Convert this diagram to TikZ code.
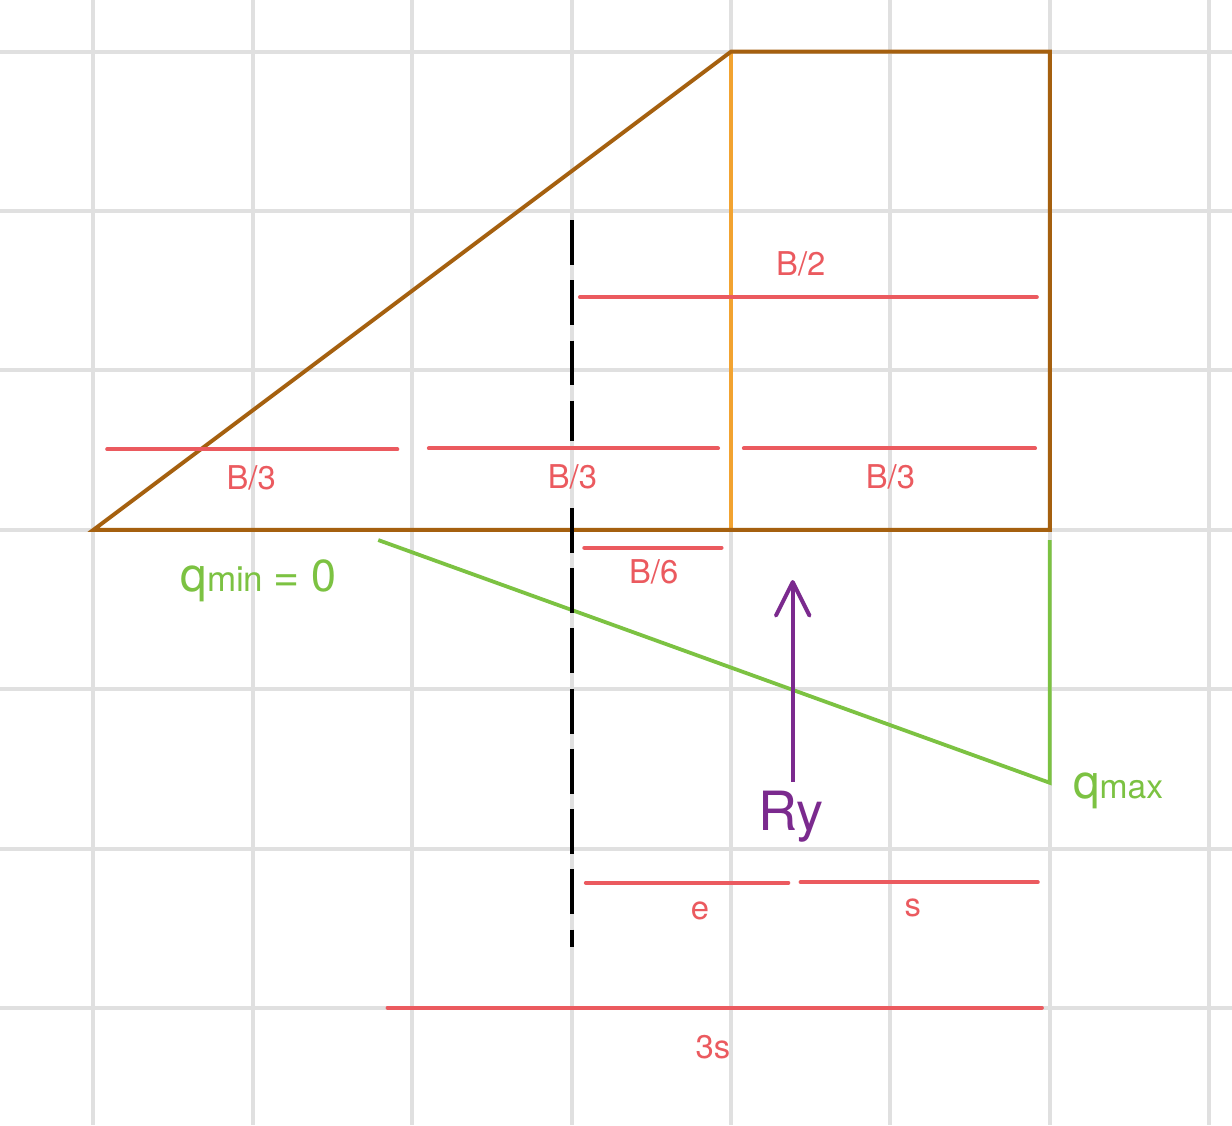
\documentclass[tikz,border=0pt]{standalone}
\usepackage{fontspec}
\setmainfont{TeX Gyre Heros}
\usetikzlibrary{calc,arrows.meta}
\definecolor{wallbrown}{HTML}{A5600F}
\definecolor{splitorange}{HTML}{F2A331}
\definecolor{dimred}{HTML}{EB5A5F}
\definecolor{loadgreen}{HTML}{7CC242}
\definecolor{forcepurple}{HTML}{7B2A8E}
\definecolor{gridgray}{HTML}{E0E0E0}

\begin{document}
\begin{tikzpicture}[x=2cm, y=2cm,
        gridline/.style={gridgray, line width=1.4pt},
        wall/.style={wallbrown, line width=1.4pt, line join=miter},
        splitline/.style={splitorange, line width=1.2pt},
        load/.style={loadgreen, line width=1.35pt},
        dim/.style={dimred, line width=1.5pt, line cap=round},
        axisline/.style={black, line width=1.5pt, dash pattern=on 16pt off 5.5pt},
        force/.style={forcepurple, line width=1.4pt, -{Straight Barb[length=12pt, width=12pt, round]}},
        lbl/.style={dimred, anchor=base, inner sep=0pt, font=\fontsize{11.7pt}{14pt}\selectfont}]
        \fill[white] (-0.586,-3.734) rectangle (7.143,3.324);
        \useasboundingbox (-0.586,-3.734) rectangle (7.143,3.324);
        \draw[gridline, step=2cm] (-0.586,-3.734) grid (7.143,3.324);

        \coordinate (toe) at (0,0);
        \coordinate (crest) at (4,3);
        \coordinate (top) at (6,3);
        \coordinate (heel) at (6,0);
        \coordinate (foot) at (4,0);

        \draw[splitline] (crest) -- (foot);
        \draw[wall] (toe) -- (crest) -- (top) -- (heel) -- cycle;

        \coordinate (qminpt) at (1.787,-0.064);
        \coordinate (qmaxpt) at ($(heel) + (0,-1.587)$);
        \draw[load] (qminpt) -- (qmaxpt) -- ($(heel) + (0,-0.064)$);

        \draw[dim] (3.053,1.46) -- (5.918,1.46);
        \draw[dim] (0.087,0.505) -- (1.906,0.505);
        \draw[dim] (2.105,0.511) -- (3.918,0.511);
        \draw[dim] (4.081,0.511) -- (5.907,0.511);
        \draw[dim] (3.08,-0.112) -- (3.94,-0.112);
        \draw[dim] (3.09,-2.214) -- (4.359,-2.214);
        \draw[dim] (4.437,-2.21) -- (5.924,-2.21);
        \draw[dim] (1.846,-2.998) -- (5.95,-2.998);

        \draw[axisline] (3,1.943) -- (3,0.557);
        \draw[axisline] (3,0.137) -- (3,-2.615);

        \node (bhalf) [lbl] at (4.438,1.598) {B/2};
        \node (bthirdleft) [lbl] at (0.99,0.254) {B/3};
        \node (bthirdmid) [lbl] at (3.005,0.262) {B/3};
        \node (bthirdright) [lbl] at (5.0,0.262) {B/3};
        \node (bsixth) [lbl] at (3.515,-0.336) {B/6};
        \node (ecc) [lbl] at (3.806,-2.445) {e};
        \node (sdist) [lbl] at (5.14,-2.427) {s};
        \node (threes) [lbl] at (3.886,-3.314) {3s};

        \node (qmin) [loadgreen, anchor=base west, inner sep=0pt] at (0.543,-0.388)
            {{\fontsize{17pt}{20pt}\selectfont q}{\fontsize{12.5pt}{15pt}\selectfont min}\fontsize{16pt}{19pt}\selectfont\hspace{0.22em}=\hspace{0.28em}0};
        \node (qmax) [loadgreen, anchor=base west, inner sep=0pt] at (6.143,-1.683)
            {{\fontsize{17pt}{20pt}\selectfont q}{\fontsize{12pt}{15pt}\selectfont max}};

        \coordinate (rtail) at (4.387,-1.58);
        \coordinate (rhead) at (4.387,-0.315);
        \draw[force] (rtail) -- (rhead);
        \node (ry) [forcepurple, anchor=base, inner sep=0pt, font=\fontsize{19.3pt}{23pt}\selectfont] at (4.378,-1.888) {Ry};
\end{tikzpicture}
\end{document}
